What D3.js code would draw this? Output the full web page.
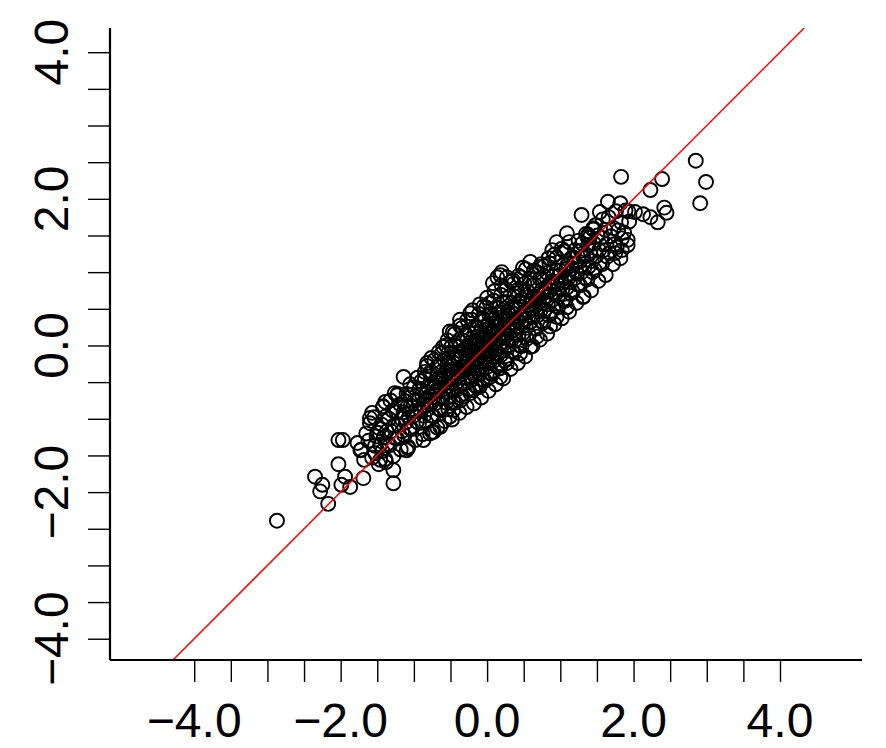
<!DOCTYPE html>
<html><head><meta charset="utf-8">
<script src="https://cdn.jsdelivr.net/npm/d3@7"></script>
<style>body{margin:0;background:#fff}svg{display:block}</style>
</head><body>
<svg id="chart" width="886" height="748"></svg>
<script>
// ---- data ----
const outliersLow = [[-2.87,-2.39],[-2.35,-1.79],[-2.25,-1.90],[-2.28,-1.99],[-2.17,-2.16],[-2.03,-1.62],[-1.94,-1.79],[-1.99,-1.90],[-1.87,-1.93],[-1.69,-1.81],[-2.03,-1.29],[-1.97,-1.29],[-1.77,-1.33],[-1.68,-1.56],[-1.57,-1.53],[-1.28,-1.70],[-1.28,-1.88],[-1.57,-0.92],[-1.60,-0.99],[-1.53,-1.37],[-1.39,-1.55],[-1.08,-1.40],[-0.75,-1.18],[-1.42,-0.84],[-1.23,-0.68],[-1.60,-1.06],[-1.50,-1.19],[-1.65,-1.20],[-1.72,-1.42],[-1.62,-1.30]];
const outliersHigh = [[1.83,2.30],[2.85,2.52],[2.99,2.23],[2.91,1.94],[2.39,2.27],[2.23,2.12],[2.42,1.88],[2.45,1.81],[2.23,1.75],[2.33,1.68],[2.13,1.79],[2.02,1.82],[1.93,1.83],[1.65,1.96],[1.82,1.94],[1.29,1.78],[1.54,1.82],[1.09,1.53],[0.95,1.41],[0.89,1.30],[1.06,1.28],[1.37,1.48],[0.59,1.14],[0.49,1.06],[0.20,1.00],[0.14,0.93],[0.27,0.93],[0.35,0.89],[0.72,1.07],[1.31,0.66],[1.09,0.52],[1.92,1.44],[1.84,1.30],[1.75,1.26],[1.45,1.58],[1.38,1.51]];
const edgePoints = [[-0.05,0.53],[-0.23,0.44],[-0.37,0.35],[-0.51,0.19],[-0.60,-0.02],[-0.82,-0.24],[-1.14,-0.43],[-1.26,-0.65],[-1.39,-0.77],[0.95,0.39],[0.86,0.26],[0.68,0.12],[0.59,-0.02],[0.45,-0.11],[0.27,-0.24],[0.18,-0.31],[0.18,-0.43],[0.04,-0.43],[-0.10,-0.56],[-0.19,-0.61],[-0.35,-0.74],[-0.46,-0.88],[-0.51,-0.97],[-0.64,-1.11],[-0.73,-1.18],[-0.87,-1.29],[-1.10,-1.43],[-1.46,-1.56],[-1.73,-1.43],[0.08,0.85],[0.18,0.96],[0.04,0.58]];
const corePoints = [
[-1.48,-1.62],[-1.53,-1.47],[-1.46,-1.35],[-1.51,-1.24],[-1.47,-1.13],[-1.54,-0.98],
[-1.38,-1.59],[-1.43,-1.44],[-1.36,-1.34],[-1.41,-1.25],[-1.37,-1.17],[-1.44,-1.08],[-1.39,-0.97],[-1.42,-0.83],
[-1.28,-1.51],[-1.33,-1.36],[-1.26,-1.26],[-1.31,-1.17],[-1.27,-1.09],[-1.34,-1.00],[-1.29,-0.89],[-1.32,-0.75],
[-1.18,-1.42],[-1.23,-1.27],[-1.16,-1.17],[-1.21,-1.08],[-1.17,-1.00],[-1.24,-0.91],[-1.19,-0.80],[-1.22,-0.66],
[-1.08,-1.38],[-1.13,-1.23],[-1.06,-1.13],[-1.11,-1.05],[-1.07,-0.98],[-1.14,-0.91],[-1.09,-0.84],[-1.12,-0.76],[-1.10,-0.66],[-1.05,-0.53],
[-0.98,-1.29],[-1.03,-1.14],[-0.96,-1.04],[-1.01,-0.96],[-0.97,-0.89],[-1.04,-0.82],[-0.99,-0.75],[-1.02,-0.67],[-1.00,-0.57],[-0.95,-0.44],
[-0.88,-1.21],[-0.93,-1.06],[-0.86,-0.96],[-0.91,-0.88],[-0.87,-0.81],[-0.94,-0.74],[-0.89,-0.67],[-0.92,-0.59],[-0.90,-0.49],[-0.85,-0.36],
[-0.78,-1.20],[-0.83,-1.05],[-0.76,-0.95],[-0.81,-0.87],[-0.77,-0.80],[-0.84,-0.74],[-0.79,-0.69],[-0.82,-0.64],[-0.80,-0.58],[-0.75,-0.52],[-0.85,-0.45],[-0.78,-0.37],[-0.82,-0.28],[-0.76,-0.17],
[-0.68,-1.12],[-0.73,-0.97],[-0.66,-0.87],[-0.71,-0.79],[-0.67,-0.72],[-0.74,-0.66],[-0.69,-0.61],[-0.72,-0.56],[-0.70,-0.50],[-0.65,-0.44],[-0.75,-0.37],[-0.68,-0.29],[-0.72,-0.20],[-0.66,-0.09],
[-0.58,-1.03],[-0.63,-0.88],[-0.56,-0.78],[-0.61,-0.70],[-0.57,-0.63],[-0.64,-0.57],[-0.59,-0.52],[-0.62,-0.47],[-0.60,-0.41],[-0.55,-0.35],[-0.65,-0.28],[-0.58,-0.20],[-0.62,-0.11],[-0.56,0.00],
[-0.48,-1.01],[-0.53,-0.87],[-0.46,-0.77],[-0.51,-0.69],[-0.47,-0.62],[-0.54,-0.56],[-0.49,-0.51],[-0.52,-0.46],[-0.50,-0.42],[-0.45,-0.38],[-0.55,-0.33],[-0.48,-0.28],[-0.52,-0.23],[-0.46,-0.17],[-0.53,-0.10],[-0.49,-0.02],[-0.54,0.07],[-0.47,0.18],
[-0.38,-0.92],[-0.43,-0.78],[-0.36,-0.68],[-0.41,-0.60],[-0.37,-0.53],[-0.44,-0.47],[-0.39,-0.42],[-0.42,-0.37],[-0.40,-0.33],[-0.35,-0.29],[-0.45,-0.24],[-0.38,-0.19],[-0.42,-0.14],[-0.36,-0.08],[-0.43,-0.01],[-0.39,0.07],[-0.44,0.16],[-0.37,0.27],
[-0.28,-0.84],[-0.33,-0.70],[-0.26,-0.60],[-0.31,-0.52],[-0.27,-0.45],[-0.34,-0.39],[-0.29,-0.34],[-0.32,-0.29],[-0.30,-0.25],[-0.25,-0.21],[-0.35,-0.16],[-0.28,-0.11],[-0.32,-0.06],[-0.26,0.00],[-0.33,0.07],[-0.29,0.15],[-0.34,0.24],[-0.27,0.35],
[-0.18,-0.79],[-0.23,-0.65],[-0.16,-0.55],[-0.21,-0.47],[-0.17,-0.41],[-0.24,-0.35],[-0.19,-0.30],[-0.22,-0.25],[-0.20,-0.21],[-0.15,-0.17],[-0.25,-0.14],[-0.18,-0.10],[-0.22,-0.06],[-0.16,-0.01],[-0.23,0.04],[-0.19,0.10],[-0.24,0.17],[-0.17,0.25],[-0.21,0.35],[-0.20,0.48],
[-0.08,-0.71],[-0.13,-0.57],[-0.06,-0.47],[-0.11,-0.39],[-0.07,-0.33],[-0.14,-0.27],[-0.09,-0.22],[-0.12,-0.17],[-0.10,-0.13],[-0.05,-0.09],[-0.15,-0.06],[-0.08,-0.02],[-0.12,0.02],[-0.06,0.07],[-0.13,0.12],[-0.09,0.18],[-0.14,0.25],[-0.07,0.33],[-0.11,0.43],[-0.10,0.56],
[0.02,-0.62],[-0.03,-0.48],[0.04,-0.38],[-0.01,-0.30],[0.03,-0.24],[-0.04,-0.18],[0.01,-0.13],[-0.02,-0.08],[0.00,-0.04],[0.05,0.00],[-0.05,0.03],[0.02,0.07],[-0.02,0.11],[0.04,0.16],[-0.03,0.21],[0.01,0.27],[-0.04,0.34],[0.03,0.42],[-0.01,0.52],[0.00,0.65],
[0.12,-0.53],[0.07,-0.39],[0.14,-0.29],[0.09,-0.21],[0.13,-0.15],[0.06,-0.09],[0.11,-0.04],[0.08,0.01],[0.10,0.05],[0.15,0.09],[0.05,0.12],[0.12,0.16],[0.08,0.20],[0.14,0.25],[0.07,0.30],[0.11,0.36],[0.06,0.43],[0.13,0.51],[0.09,0.61],[0.10,0.74],
[0.22,-0.45],[0.17,-0.31],[0.24,-0.21],[0.19,-0.13],[0.23,-0.07],[0.16,-0.01],[0.21,0.04],[0.18,0.09],[0.20,0.13],[0.25,0.17],[0.15,0.20],[0.22,0.24],[0.18,0.28],[0.24,0.33],[0.17,0.38],[0.21,0.44],[0.16,0.51],[0.23,0.59],[0.19,0.69],[0.20,0.82],
[0.32,-0.32],[0.27,-0.18],[0.34,-0.08],[0.29,0.00],[0.33,0.07],[0.26,0.13],[0.31,0.18],[0.28,0.23],[0.30,0.27],[0.35,0.31],[0.25,0.36],[0.32,0.41],[0.28,0.46],[0.34,0.52],[0.27,0.59],[0.31,0.67],[0.26,0.76],[0.33,0.87],
[0.42,-0.24],[0.37,-0.10],[0.44,0.00],[0.39,0.08],[0.43,0.15],[0.36,0.21],[0.41,0.26],[0.38,0.31],[0.40,0.35],[0.45,0.39],[0.35,0.44],[0.42,0.49],[0.38,0.54],[0.44,0.60],[0.37,0.67],[0.41,0.75],[0.36,0.84],[0.43,0.95],
[0.52,-0.15],[0.47,-0.01],[0.54,0.09],[0.49,0.17],[0.53,0.24],[0.46,0.30],[0.51,0.35],[0.48,0.40],[0.50,0.44],[0.55,0.48],[0.45,0.53],[0.52,0.58],[0.48,0.63],[0.54,0.69],[0.47,0.76],[0.51,0.84],[0.46,0.93],[0.53,1.04],
[0.62,-0.01],[0.57,0.14],[0.64,0.24],[0.59,0.32],[0.63,0.39],[0.56,0.45],[0.61,0.50],[0.58,0.55],[0.60,0.61],[0.65,0.67],[0.55,0.74],[0.62,0.82],[0.58,0.91],[0.64,1.02],
[0.72,0.08],[0.67,0.23],[0.74,0.33],[0.69,0.41],[0.73,0.48],[0.66,0.54],[0.71,0.59],[0.68,0.64],[0.70,0.70],[0.75,0.76],[0.65,0.83],[0.72,0.91],[0.68,1.00],[0.74,1.11],
[0.82,0.16],[0.77,0.31],[0.84,0.41],[0.79,0.49],[0.83,0.56],[0.76,0.62],[0.81,0.67],[0.78,0.72],[0.80,0.78],[0.85,0.84],[0.75,0.91],[0.82,0.99],[0.78,1.08],[0.84,1.19],
[0.92,0.29],[0.87,0.44],[0.94,0.54],[0.89,0.62],[0.93,0.69],[0.86,0.75],[0.91,0.81],[0.88,0.87],[0.90,0.94],[0.95,1.02],[0.85,1.12],[0.92,1.24],
[1.02,0.37],[0.97,0.52],[1.04,0.62],[0.99,0.70],[1.03,0.77],[0.96,0.83],[1.01,0.89],[0.98,0.95],[1.00,1.02],[1.05,1.10],[0.95,1.20],[1.02,1.32],
[1.12,0.46],[1.07,0.61],[1.14,0.71],[1.09,0.79],[1.13,0.86],[1.06,0.92],[1.11,0.98],[1.08,1.04],[1.10,1.11],[1.15,1.19],[1.05,1.29],[1.12,1.41],
[1.22,0.58],[1.17,0.73],[1.24,0.83],[1.19,0.91],[1.23,0.98],[1.16,1.05],[1.21,1.12],[1.18,1.20],[1.20,1.30],[1.25,1.43],
[1.32,0.67],[1.27,0.82],[1.34,0.92],[1.29,1.00],[1.33,1.07],[1.26,1.14],[1.31,1.21],[1.28,1.29],[1.30,1.39],[1.35,1.52],
[1.42,0.75],[1.37,0.90],[1.44,1.00],[1.39,1.08],[1.43,1.15],[1.36,1.22],[1.41,1.29],[1.38,1.37],[1.40,1.47],[1.45,1.60],
[1.52,0.88],[1.47,1.03],[1.54,1.13],[1.49,1.22],[1.53,1.30],[1.46,1.39],[1.51,1.50],[1.48,1.64],
[1.62,0.96],[1.57,1.11],[1.64,1.21],[1.59,1.30],[1.63,1.38],[1.56,1.47],[1.61,1.58],[1.58,1.72],
[1.72,1.11],[1.67,1.26],[1.74,1.38],[1.69,1.49],[1.73,1.60],[1.66,1.75],
[1.82,1.19],[1.77,1.34],[1.84,1.46],[1.79,1.57],[1.83,1.68],[1.76,1.83],
[1.92,1.37],[1.87,1.54],[1.94,1.69],[1.89,1.84]
];
const xTicks = [-4,-3.5,-3,-2.5,-2,-1.5,-1,-0.5,0,0.5,1,1.5,2,2.5,3,3.5,4];
const yTicks = [-4,-3.5,-3,-2.5,-2,-1.5,-1,-0.5,0,0.5,1,1.5,2,2.5,3,3.5,4];
const tickLabels = [-4,-2,0,2,4];
const refLine = {intercept: 0, slope: 1};

// ---- layout ----
const plot = {left:110, right:862, top:28, bottom:660};
const x = d3.scaleLinear().domain([-5.15, 5.12]).range([plot.left, plot.right]);
const y = d3.scaleLinear().domain([-4.29, 4.33]).range([plot.bottom, plot.top]);
const fmt = v => (v < 0 ? "\u2212" : "") + Math.abs(v).toFixed(1);
const FONT = "'Liberation Sans', Arial, Helvetica, sans-serif";

const svg = d3.select("#chart");
svg.append("rect").attr("width",886).attr("height",748).attr("fill","#fff");

svg.append("defs").append("clipPath").attr("id","clip")
  .append("rect").attr("x",plot.left).attr("y",plot.top)
  .attr("width",plot.right-plot.left).attr("height",plot.bottom-plot.top);

const allPoints = outliersLow.concat(edgePoints, corePoints, outliersHigh);
svg.append("g").selectAll("circle").data(allPoints).join("circle")
  .attr("cx", d => x(d[0])).attr("cy", d => y(d[1])).attr("r", 7)
  .attr("fill","none").attr("stroke","#000").attr("stroke-width",1.9);

// reference line y = x
const xd = x.domain(), yd = y.domain();
const lo = Math.max(xd[0], yd[0]), hi = Math.min(xd[1], yd[1]);
svg.append("line").attr("clip-path","url(#clip)")
  .attr("x1", x(lo)).attr("y1", y(refLine.intercept + refLine.slope*lo))
  .attr("x2", x(hi)).attr("y2", y(refLine.intercept + refLine.slope*hi))
  .attr("stroke","#ff0000").attr("stroke-width",1.5);

// axes
const gx = svg.append("g").attr("transform",`translate(0,${plot.bottom})`)
  .call(d3.axisBottom(x).tickValues(xTicks).tickSize(22).tickFormat(""));
gx.select(".domain").remove();
gx.selectAll(".tick line").attr("stroke","#000").attr("stroke-width",1.4);

const gy = svg.append("g").attr("transform",`translate(${plot.left},0)`)
  .call(d3.axisLeft(y).tickValues(yTicks).tickSize(22).tickFormat(""));
gy.select(".domain").remove();
gy.selectAll(".tick line").attr("stroke","#000").attr("stroke-width",1.4);

svg.append("line").attr("x1",plot.left).attr("x2",plot.right)
  .attr("y1",plot.bottom).attr("y2",plot.bottom).attr("stroke","#000").attr("stroke-width",2.2);
svg.append("line").attr("x1",plot.left).attr("x2",plot.left)
  .attr("y1",plot.top).attr("y2",plot.bottom).attr("stroke","#000").attr("stroke-width",2.2);

svg.append("g").selectAll("text").data(tickLabels).join("text")
  .attr("x", d => x(d)).attr("y", 737).attr("text-anchor","middle")
  .attr("font-family",FONT).attr("font-size",48).attr("fill","#000").text(fmt);

svg.append("g").selectAll("text").data(tickLabels).join("text")
  .attr("transform", d => `translate(68,${y(d)}) rotate(-90)`).attr("text-anchor","middle")
  .attr("font-family",FONT).attr("font-size",48).attr("fill","#000").text(fmt);
</script>
</body></html>
